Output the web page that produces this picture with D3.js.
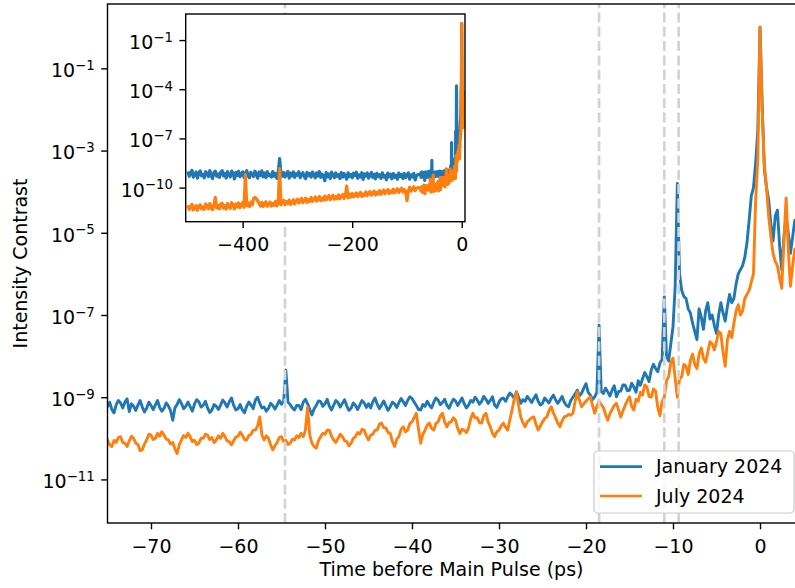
<!DOCTYPE html>
<html>
<head>
<meta charset="utf-8">
<script src="https://cdn.jsdelivr.net/npm/d3@7"></script>
<style>
body { margin: 0; background: white; }
</style>
</head>
<body>
<div class="chart"></div>
<script>
// log10 of intensity contrast
// far range (inset only): every 2.5 ps from -500 to -80 (one row = 25 ps)
let farStart = -500;
let farStep = 2.5;
let farJan = [
    -9.02, -9.31, -9.10, -8.95, -9.36, -9.18, -9.05, -9.42, -9.12, -8.98,
    -9.28, -9.20, -9.40, -9.03, -9.15, -9.33, -8.96, -9.24, -9.45, -9.08,
    -9.00, -9.30, -9.17, -9.38, -9.06, -8.97, -9.29, -9.13, -9.41, -9.02,
    -9.22, -9.35, -8.99, -9.12, -9.47, -9.09, -9.26, -9.01, -9.33, -9.18,
    -9.04, -9.37, -9.14, -8.97, -9.28, -9.40, -9.07, -9.21, -9.32, -9.00,
    -9.16, -9.43, -9.05, -9.25, -8.98, -9.34, -9.11, -9.39, -9.03, -9.27,
    -9.19, -9.36, -9.02, -9.30, -9.13, -9.44, -9.06, -8.23, -9.20, -9.31,
    -9.08, -9.35, -9.17, -9.01, -9.42, -9.12, -9.29, -9.04, -9.38, -9.15,
    -9.25, -9.03, -9.40, -9.19, -9.09, -9.33, -9.46, -9.07, -9.27, -9.14,
    -9.36, -9.05, -9.22, -9.41, -9.10, -9.30, -9.02, -9.37, -9.18, -9.28,
    -9.58, -9.09, -9.34, -9.16, -9.44, -9.06, -9.26, -9.39, -9.11, -9.31,
    -9.20, -9.45, -9.08, -9.36, -9.14, -9.29, -9.48, -9.10, -9.33, -9.19,
    -9.40, -9.12, -9.27, -9.06, -9.43, -9.22, -9.35, -9.09, -9.50, -9.17,
    -9.30, -9.11, -9.42, -9.24, -9.08, -9.38, -9.19, -9.47, -9.13, -9.32,
    -9.21, -9.44, -9.10, -9.36, -9.26, -9.52, -9.12, -9.34, -9.18, -9.46,
    -9.15, -9.37, -9.24, -9.49, -9.11, -9.33, -9.20, -9.45, -9.14, -9.39,
    -9.25, -9.10, -9.48, -9.22, -9.35, -9.13, -9.53, -9.28, -9.20
];
let farJul = [
    -11.08, -11.34, -11.19, -11.02, -11.36, -11.22, -11.10, -11.38, -11.15, -11.04,
    -11.30, -11.18, -11.33, -11.00, -11.12, -11.29, -10.98, -11.21, -11.35, -11.06,
    -10.60, -11.24, -11.08, -11.30, -10.99, -10.95, -11.26, -11.10, -11.31, -10.97,
    -11.15, -11.27, -10.92, -11.05, -11.30, -11.00, -11.18, -10.94, -11.22, -11.07,
    -10.90, -11.20, -9.20, -11.10, -10.93, -11.16, -10.88, -11.05, -10.65, -10.60,
    -10.68, -10.80, -10.95, -11.12, -10.90, -11.15, -10.97, -10.86, -11.14, -11.01,
    -10.88, -11.13, -10.96, -11.08, -10.84, -11.12, -10.92, -8.84, -11.05, -10.90,
    -10.78, -11.04, -10.85, -10.97, -10.76, -11.03, -10.89, -10.74, -11.00, -10.82,
    -10.70, -10.94, -10.78, -10.66, -10.92, -10.80, -10.64, -10.90, -10.74, -10.85,
    -10.60, -10.84, -10.72, -10.57, -10.83, -10.68, -10.55, -10.80, -10.64, -10.76,
    -10.52, -10.75, -10.62, -10.48, -10.74, -10.60, -10.47, -10.71, -10.55, -10.68,
    -10.45, -10.68, -10.53, -10.42, -10.66, -10.50, -9.90, -10.63, -10.40, -10.58,
    -10.36, -10.57, -10.45, -10.33, -10.56, -10.41, -10.30, -10.54, -10.38, -10.48,
    -10.27, -10.50, -10.36, -10.24, -10.47, -10.33, -10.21, -10.45, -10.29, -10.40,
    -10.18, -10.41, -10.27, -10.15, -10.38, -10.24, -10.12, -10.36, -10.20, -10.31,
    -10.10, -10.32, -10.19, -10.07, -10.30, -10.15, -10.04, -10.27, -10.11, -10.22,
    -10.80, -10.20, -9.98, -10.22, -10.08, -9.95, -10.19, -10.05, -10.00
];

// near range: every 0.25 ps from -75 to 5 (one row = 5 ps)
let nearStart = -75;
let nearStep = 0.25;
let nearJan = [
    -9.23, -9.12, -9.30, -9.38, -9.18, -9.08, -9.14, -9.26, -9.12, -9.04, -9.35, -9.16, -9.22, -9.32, -9.19, -9.08, -9.24, -9.36, -9.27, -9.12,
    -9.20, -9.30, -9.19, -9.08, -9.25, -9.34, -9.27, -9.14, -9.21, -9.33, -9.56, -9.26, -9.18, -9.06, -9.15, -9.28, -9.22, -9.12, -9.23, -9.34,
    -9.17, -9.06, -9.11, -9.24, -9.20, -9.10, -9.26, -9.37, -9.31, -9.18, -9.22, -9.30, -9.19, -9.07, -9.14, -9.24, -9.11, -9.02, -9.20, -9.31,
    -9.28, -9.18, -9.31, -9.38, -9.22, -9.12, -9.19, -9.28, -9.07, -9.00, -9.15, -9.26, -9.24, -9.34, -9.27, -9.15, -9.20, -9.29, -9.19, -9.08,
    -9.17, -9.10, -8.34, -9.12, -9.18, -9.26, -9.31, -9.20, -9.20, -9.30, -9.12, -9.05, -9.16, -9.30, -9.43, -9.28, -9.20, -9.09, -9.11, -9.22,
    -9.16, -9.05, -9.22, -9.31, -9.19, -9.08, -9.13, -9.24, -9.15, -9.06, -9.21, -9.32, -9.27, -9.14, -9.20, -9.30, -9.19, -9.08, -9.14, -9.25,
    -9.16, -9.26, -9.11, -9.02, -9.17, -9.28, -9.19, -9.09, -9.21, -9.32, -9.23, -9.12, -9.16, -9.25, -9.13, -9.03, -9.11, -9.20, -9.08, -8.99,
    -9.03, -9.12, -9.20, -9.30, -9.31, -9.18, -9.22, -9.10, -9.19, -9.26, -9.12, -9.02, -9.07, -9.18, -9.13, -9.05, -9.19, -9.27, -9.15, -9.05,
    -9.09, -9.20, -9.11, -9.02, -9.16, -9.26, -9.19, -9.08, -9.12, -9.00, -9.07, -9.17, -9.10, -8.98, -9.05, -9.15, -9.08, -8.99, -9.19, -9.25,
    -9.12, -9.04, -9.02, -9.10, -8.99, -8.90, -8.95, -9.03, -8.87, -9.00, -9.15, -9.06, -9.10, -8.98, -9.05, -9.13, -9.03, -8.94, -9.10, -9.19,
    -9.15, -9.02, -9.08, -9.14, -9.03, -8.95, -9.06, -9.15, -9.07, -8.98, -9.12, -9.20, -9.23, -9.08, -9.00, -8.92, -8.83, -8.97, -8.90, -8.78,
    -8.67, -8.88, -8.95, -9.06, -8.99, -8.88, -7.25, -8.86, -8.91, -8.78, -8.87, -8.97, -8.83, -8.72, -8.99, -8.86, -8.85, -8.70, -8.71, -8.84,
    -8.83, -8.66, -8.75, -8.88, -8.60, -8.71, -8.55, -8.40, -8.50, -8.62, -8.34, -8.20, -8.30, -8.38, -8.17, -8.08, -6.56, -8.00, -8.12, -7.70,
    -7.29, -6.30, -3.80, -6.00, -6.40, -6.55, -6.60, -6.85, -6.95, -7.20, -7.40, -7.60, -6.85, -7.05, -7.35, -6.90, -6.70, -7.10, -7.00, -7.25,
    -7.45, -7.00, -6.70, -6.95, -7.15, -6.80, -6.50, -6.70, -6.60, -6.25, -6.00, -5.90, -5.80, -5.60, -5.25, -4.70, -4.10, -3.90, -3.30, -2.50,
    0.00, -1.90, -3.45, -3.90, -4.20, -4.80, -5.20, -4.60, -4.45, -5.30, -5.90, -5.10, -4.60, -5.00, -5.50, -5.10, -4.70, -4.95, -5.20, -5.05,
    -4.90
];
let nearJul = [
    -10.04, -10.16, -10.20, -10.05, -10.10, -9.98, -9.96, -10.10, -10.12, -10.20, -10.06, -9.95, -10.00, -10.12, -10.15, -10.30, -10.28, -10.14, -10.04, -9.90,
    -9.92, -10.03, -10.00, -9.88, -9.95, -9.84, -9.92, -10.02, -10.04, -10.14, -10.10, -10.25, -10.37, -10.16, -10.04, -9.93, -9.98, -9.88, -9.96, -10.08,
    -10.05, -10.15, -10.12, -10.00, -10.00, -9.90, -9.92, -10.03, -9.98, -10.10, -10.04, -9.94, -10.00, -9.88, -9.96, -10.07, -10.08, -10.16, -10.06, -9.97,
    -9.95, -9.85, -9.92, -10.03, -10.04, -9.93, -9.90, -9.80, -9.80, -9.70, -9.48, -9.92, -10.04, -9.94, -10.00, -10.16, -10.28, -10.18, -10.10, -9.98,
    -9.96, -10.08, -10.05, -10.15, -10.12, -10.02, -10.04, -9.94, -9.98, -9.88, -9.96, -9.80, -9.24, -9.92, -10.12, -10.20, -10.24, -10.06, -9.96, -9.88,
    -9.90, -9.80, -9.80, -9.95, -10.04, -10.10, -10.00, -9.90, -9.96, -10.06, -10.08, -10.18, -10.12, -10.00, -9.96, -9.86, -9.90, -9.78, -9.80, -9.94,
    -10.04, -9.92, -9.90, -9.80, -9.80, -9.66, -9.63, -9.74, -9.75, -9.86, -9.88, -10.08, -10.20, -10.02, -9.95, -9.78, -9.72, -9.84, -9.80, -9.64,
    -9.60, -9.50, -9.39, -9.78, -10.12, -9.90, -9.80, -9.68, -9.63, -9.76, -9.80, -9.64, -9.60, -9.46, -9.39, -9.60, -9.72, -9.62, -9.60, -9.50,
    -9.56, -9.76, -9.88, -9.78, -9.80, -9.86, -9.75, -9.52, -9.39, -9.50, -9.50, -9.62, -9.63, -9.45, -9.39, -9.60, -9.72, -9.88, -9.96, -9.84,
    -9.80, -9.70, -9.63, -9.73, -9.80, -9.55, -9.31, -9.05, -8.87, -9.20, -9.48, -9.62, -9.72, -9.60, -9.55, -9.50, -9.48, -9.66, -9.80, -9.70,
    -9.60, -9.52, -9.48, -9.33, -9.23, -9.38, -9.50, -9.63, -9.72, -9.58, -9.48, -9.46, -9.42, -9.44, -9.39, -9.10, -8.87, -9.08, -9.23, -9.16,
    -9.10, -9.04, -8.99, -9.20, -9.39, -9.22, -9.10, -9.18, -9.25, -9.42, -9.56, -9.40, -9.30, -9.20, -9.15, -9.32, -9.48, -9.33, -9.20, -9.08,
    -8.99, -9.22, -9.31, -9.05, -9.10, -8.88, -8.95, -8.70, -8.75, -8.98, -9.00, -8.80, -8.85, -9.25, -9.45, -9.10, -9.00, -8.60, -8.50, -8.15,
    -8.05, -8.55, -9.00, -8.55, -8.50, -8.20, -8.25, -8.45, -8.10, -7.95, -8.20, -8.30, -7.95, -7.80, -8.05, -8.15, -7.90, -7.65, -7.70, -7.85,
    -7.65, -7.40, -7.45, -7.90, -8.25, -7.60, -7.40, -7.55, -7.20, -6.90, -6.75, -7.00, -6.90, -6.60, -6.50, -6.40, -6.20, -6.00, -4.20, -3.20,
    0.00, -2.00, -3.35, -3.90, -4.60, -5.10, -5.50, -5.70, -5.80, -6.10, -6.35, -5.20, -4.15, -5.40, -6.30, -5.80, -5.40, -5.55, -5.60, -5.45,
    -5.30
];

let markerTimes = [-54.6, -18.5, -11.0, -9.35];
let mainXTicks = [-70, -60, -50, -40, -30, -20, -10, 0];
let mainYExps = [-11, -9, -7, -5, -3, -1];
let insetXTicks = [-400, -200, 0];
let insetYExps = [-10, -7, -4, -1];
let seriesNames = ["January 2024", "July 2024"];
let seriesColors = ["#1f77b4", "#ff7f0e"];

if (farJan.length !== 169 || farJul.length !== 169 || nearJan.length !== 321 || nearJul.length !== 321) {
    throw new Error("data length mismatch " + farJan.length + " " + farJul.length + " " + nearJan.length + " " + nearJul.length);
}

function toPoints(start, step, vals) {
    return vals.map(function (v, i) {
        return {t: start + i * step, v: v};
    });
}

let series = [
    toPoints(farStart, farStep, farJan).concat(toPoints(nearStart, nearStep, nearJan)),
    toPoints(farStart, farStep, farJul).concat(toPoints(nearStart, nearStep, nearJul))
];

let font = "DejaVu Sans";
let fs = 19;
let lw = 2.9;
let tickLen = 6.3;

let main = {left: 107.5, right: 803.5, top: 4, bottom: 523};
let ins = {left: 185.7, right: 465, top: 14, bottom: 221.7};

let svg = d3
    .select(".chart")
    .append("svg")
    .attr("width", 795)
    .attr("height", 588)
    .style("background-color", "white")
    .style("display", "block");

let x = d3.scaleLinear().domain([-75, 5]).range([main.left, main.right]);
let y = d3.scaleLog().domain([Math.pow(10, -12.06), Math.pow(10, 0.565)]).range([main.bottom, main.top]);

let xi = d3.scaleLinear().domain([-504, 6]).range([ins.left, ins.right]);
let yi = d3.scaleLog().domain([Math.pow(10, -12.08), Math.pow(10, 0.59)]).range([ins.bottom, ins.top]);

let defs = svg.append("defs");
defs.append("clipPath").attr("id", "clipMain")
    .append("rect")
    .attr("x", main.left).attr("y", main.top)
    .attr("width", main.right - main.left).attr("height", main.bottom - main.top);
defs.append("clipPath").attr("id", "clipInset")
    .append("rect")
    .attr("x", ins.left).attr("y", ins.top)
    .attr("width", ins.right - ins.left).attr("height", ins.bottom - ins.top);

function minus(d) {
    return (d < 0 ? "\u2212" : "") + Math.abs(d);
}

function drawXAxis(sx, ticks, yPos) {
    let ax = svg.append("g")
        .attr("transform", "translate(0," + yPos + ")")
        .call(d3.axisBottom(sx).tickValues(ticks).tickSize(tickLen).tickSizeOuter(0).tickFormat(minus));
    ax.attr("font-family", font).attr("font-size", fs);
    ax.select(".domain").remove();
    ax.selectAll(".tick line").attr("stroke", "#000").attr("stroke-width", 1.4);
    ax.selectAll(".tick text").attr("fill", "#000").attr("dy", null).attr("y", 29.5);
}

function drawYAxis(sy, exps, xPos) {
    let ax = svg.append("g")
        .attr("transform", "translate(" + xPos + ",0)")
        .call(d3.axisLeft(sy).tickValues(exps.map(function (e) { return Math.pow(10, e); }))
            .tickSize(tickLen).tickSizeOuter(0).tickFormat(""));
    ax.attr("font-family", font).attr("font-size", fs);
    ax.select(".domain").remove();
    ax.selectAll(".tick line").attr("stroke", "#000").attr("stroke-width", 1.4);
    ax.selectAll(".tick text")
        .attr("fill", "#000")
        .attr("dy", null)
        .attr("x", -12.8)
        .attr("y", 8.4)
        .attr("text-anchor", "end")
        .each(function (d) {
            let e = Math.round(Math.log10(d));
            let t = d3.select(this);
            t.append("tspan").text("10");
            t.append("tspan").attr("dy", -7.2).attr("font-size", fs * 0.7).text(minus(e));
        });
}

let line = d3.line()
    .x(function (d) { return x(d.t); })
    .y(function (d) { return y(Math.pow(10, d.v)); });

let lineInset = d3.line()
    .x(function (d) { return xi(d.t); })
    .y(function (d) { return yi(Math.pow(10, d.v)); });

// main panel traces
svg.append("g")
    .attr("clip-path", "url(#clipMain)")
    .selectAll("path")
    .data(series)
    .enter()
    .append("path")
    .attr("d", line)
    .attr("fill", "none")
    .attr("stroke", function (d, i) { return seriesColors[i]; })
    .attr("stroke-width", lw)
    .attr("stroke-linejoin", "round");

// dashed markers at the pre-pulses
svg.append("g")
    .selectAll("line")
    .data(markerTimes)
    .enter()
    .append("line")
    .attr("x1", function (d) { return x(d); })
    .attr("x2", function (d) { return x(d); })
    .attr("y1", main.bottom)
    .attr("y2", main.top)
    .attr("stroke", "#d3d3d3")
    .attr("stroke-width", 2.7)
    .attr("stroke-dasharray", "10,4.3");

svg.append("rect")
    .attr("x", main.left).attr("y", main.top)
    .attr("width", main.right - main.left).attr("height", main.bottom - main.top)
    .attr("fill", "none").attr("stroke", "#000").attr("stroke-width", 1.4);

drawXAxis(x, mainXTicks, main.bottom);
drawYAxis(y, mainYExps, main.left);

svg.append("text")
    .attr("x", (main.left + main.right) / 2 - 4)
    .attr("y", 576)
    .attr("text-anchor", "middle")
    .style("font-family", font)
    .style("font-size", fs)
    .text("Time before Main Pulse (ps)");

svg.append("text")
    .attr("transform", "translate(27," + ((main.top + main.bottom) / 2) + ") rotate(-90)")
    .attr("text-anchor", "middle")
    .style("font-family", font)
    .style("font-size", fs)
    .text("Intensity Contrast");

// inset with the full scan
svg.append("rect")
    .attr("x", ins.left).attr("y", ins.top)
    .attr("width", ins.right - ins.left).attr("height", ins.bottom - ins.top)
    .attr("fill", "white");

svg.append("g")
    .attr("clip-path", "url(#clipInset)")
    .selectAll("path")
    .data(series)
    .enter()
    .append("path")
    .attr("d", lineInset)
    .attr("fill", "none")
    .attr("stroke", function (d, i) { return seriesColors[i]; })
    .attr("stroke-width", 3.2)
    .attr("stroke-linejoin", "round");

svg.append("rect")
    .attr("x", ins.left).attr("y", ins.top)
    .attr("width", ins.right - ins.left).attr("height", ins.bottom - ins.top)
    .attr("fill", "none").attr("stroke", "#000").attr("stroke-width", 1.4);

drawXAxis(xi, insetXTicks, ins.bottom);
drawYAxis(yi, insetYExps, ins.left);

// legend
let legendBox = svg.append("rect")
    .attr("x", 594)
    .attr("y", 451)
    .attr("width", 200)
    .attr("height", 62)
    .attr("rx", 4)
    .style("fill", "white")
    .style("fill-opacity", 0.8)
    .style("stroke", "#cccccc")
    .style("stroke-width", 1.2);

let legend = svg.append("g")
    .selectAll("g")
    .data(seriesNames)
    .enter()
    .append("g")
    .attr("transform", function (d, i) {
        return "translate(0," + (466.7 + i * 29.3) + ")";
    });

legend.append("line")
    .attr("x1", 600)
    .attr("x2", 642)
    .attr("stroke", function (d, i) { return seriesColors[i]; })
    .attr("stroke-width", 2.7);

legend.append("text")
    .attr("x", 656)
    .attr("y", 6.7)
    .style("font-family", font)
    .style("font-size", fs)
    .text(function (d) { return d; });
</script>
</body>
</html>
